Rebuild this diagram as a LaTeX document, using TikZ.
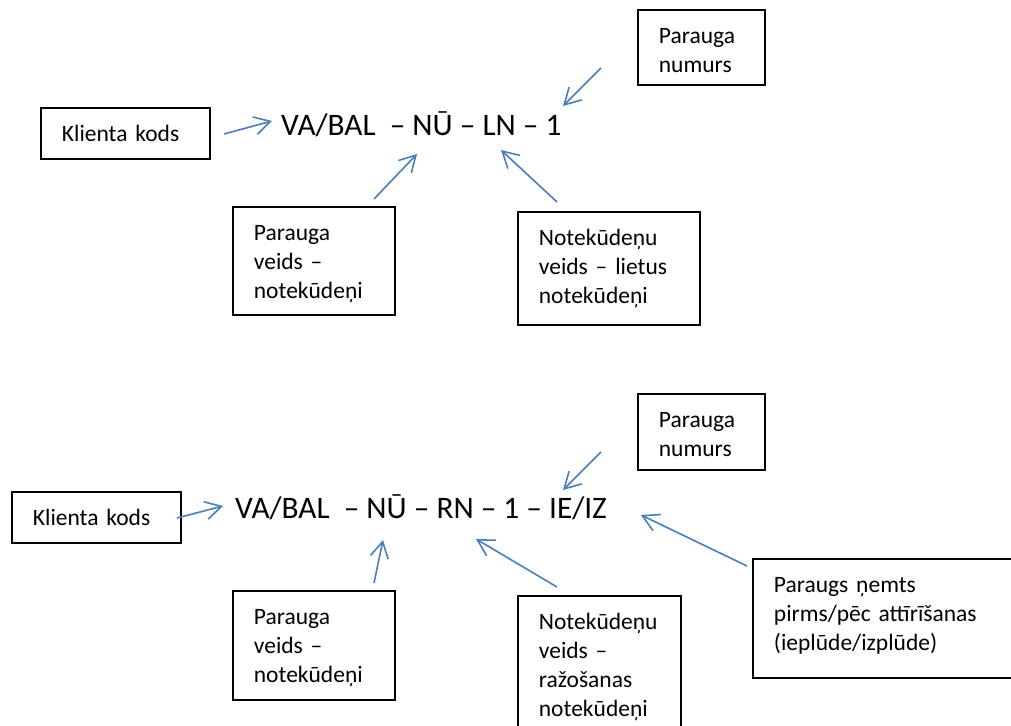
\documentclass[tikz,border=0pt]{standalone}
\usepackage{fontspec}
\setmainfont{Carlito}
\usetikzlibrary{arrows.meta}
\definecolor{ArrowBlue}{HTML}{4A7EBB}
\tikzset{
  lv box/.style={
    draw=black,
    line width=1.8pt,
    align=left,
    anchor=north west,
    inner xsep=21pt,
    inner ysep=0pt,
    text height=34pt,
    font=\fontsize{23.5}{29}\selectfont
  },
  lv code/.style={
    anchor=base west,
    inner sep=0pt,
    font=\fontsize{31.3}{38}\selectfont
  },
  lv pointer/.style={
    -{Straight Barb[length=16pt,width=18pt]},
    draw=ArrowBlue,
    line width=1.6pt
  }
}

\begin{document}
\begin{tikzpicture}[x=1pt, y=-1pt]
        \fill[white] (0,0) rectangle (1011,725);
        \useasboundingbox (0,0) rectangle (1011,725);

        % first code: rain water
        \node[lv code] (code1) at (281,135) {VA/BAL\ \ – NŪ – LN – 1};
        \node[lv box,text width=127pt,text depth=17pt] (kk1) at (40,107) {Klienta kods};
        \node[lv box,text width=85pt,text depth=41pt] (nr1) at (637,9) {Parauga\\numurs};
        \node[lv box,text width=120pt,text depth=74pt] (pv1) at (232,206) {Parauga\\veids –\\notekūdeņi};
        \node[lv box,text width=140pt,text depth=79pt] (nv1) at (517,211) {Notekūdeņu\\veids – lietus\\notekūdeņi};

        \coordinate (kk1 tail) at (224,134);  \coordinate (kk1 tip) at (272,121);
        \coordinate (pv1 tail) at (374,199);  \coordinate (pv1 tip) at (417,154);
        \coordinate (nv1 tail) at (557,202);  \coordinate (nv1 tip) at (501,150);
        \coordinate (nr1 tail) at (601,68);   \coordinate (nr1 tip) at (563,106);

        \draw[lv pointer] (kk1 tail) -- (kk1 tip);
        \draw[lv pointer] (pv1 tail) -- (pv1 tip);
        \draw[lv pointer] (nv1 tail) -- (nv1 tip);
        \draw[lv pointer] (nr1 tail) -- (nr1 tip);

        % second code: production water
        \node[lv code] (code2) at (235,518) {VA/BAL\ \ – NŪ – RN – 1 – IE/IZ};
        \node[lv box,text width=127pt,text depth=17pt] (kk2) at (11,491) {Klienta kods};
        \node[lv box,text width=85pt,text depth=42pt] (nr2) at (637,393) {Parauga\\numurs};
        \node[lv box,text width=120pt,text depth=75pt] (pv2) at (232,590) {Parauga\\veids –\\notekūdeņi};
        \node[lv box,text width=121pt,text depth=108pt] (nv2) at (517,595) {Notekūdeņu\\veids –\\ražošanas\\notekūdeņi};
        \node[lv box,text width=246pt,text depth=85pt] (pn2) at (752,558) {Paraugs ņemts\\pirms/pēc attīrīšanas\\(ieplūde/izplūde)};

        \coordinate (kk2 tail) at (177,518);  \coordinate (kk2 tip) at (223,506);
        \coordinate (pv2 tail) at (374,583);  \coordinate (pv2 tip) at (383,540);
        \coordinate (nv2 tail) at (557,587);  \coordinate (nv2 tip) at (476,539);
        \coordinate (nr2 tail) at (601,452);  \coordinate (nr2 tip) at (563,490);
        \coordinate (pn2 tail) at (747,566);  \coordinate (pn2 tip) at (641,515);

        \draw[lv pointer] (kk2 tail) -- (kk2 tip);
        \draw[lv pointer] (pv2 tail) -- (pv2 tip);
        \draw[lv pointer] (nv2 tail) -- (nv2 tip);
        \draw[lv pointer] (nr2 tail) -- (nr2 tip);
        \draw[lv pointer] (pn2 tail) -- (pn2 tip);
      \end{tikzpicture}
\end{document}
